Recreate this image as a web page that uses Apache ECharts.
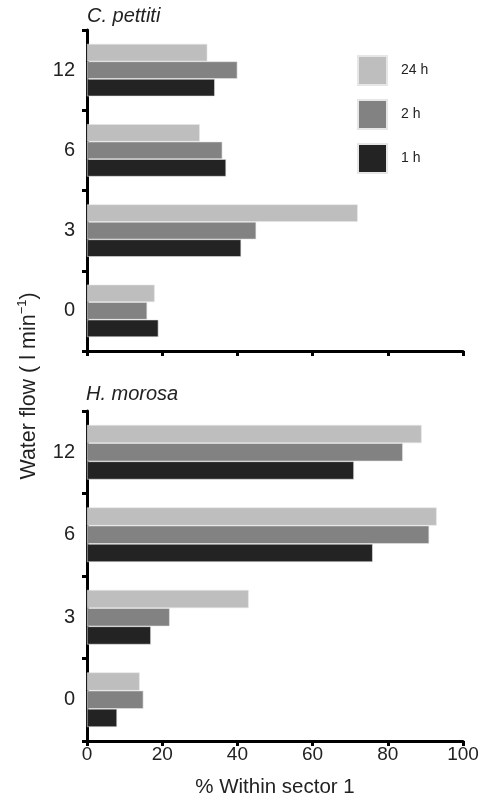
<!DOCTYPE html>
<html>
<head>
<meta charset="utf-8">
<script src="https://cdn.jsdelivr.net/npm/echarts@6/dist/echarts.min.js"></script>
<style>html,body{margin:0;padding:0;background:#fff}#c{width:484px;height:800px}</style>
</head>
<body>
<div id="c"></div>
<script>
const categories = ['0', '3', '6', '12'];
const seriesNames = ['24 h', '2 h', '1 h'];
const xTicks = [0, 20, 40, 60, 80, 100];
// C. pettiti
const pettiti24h = [18, 72, 30, 32];
const pettiti2h = [16, 45, 36, 40];
const pettiti1h = [19, 41, 37, 34];
// H. morosa
const morosa24h = [14, 43, 93, 89];
const morosa2h = [15, 22, 91, 84];
const morosa1h = [8, 17, 76, 71];

const colors = ['#bebebe', '#828282', '#232323'];
const FONT = '"Liberation Sans", Arial, sans-serif';

const chart = echarts.init(document.getElementById('c'), null, {renderer: 'canvas'});

function xAx(gridIndex, showLabels) {
  return {
    type: 'value', gridIndex, min: xTicks[0], max: xTicks[xTicks.length - 1], interval: 20,
    axisLine: {show: true, onZero: false, lineStyle: {color: '#000', width: 3}},
    axisTick: {show: true, length: 5, lineStyle: {color: '#000', width: 3}},
    axisLabel: {show: showLabels, color: '#222', fontSize: 19, fontFamily: FONT, margin: 4},
    splitLine: {show: false},
    name: showLabels ? '% Within sector 1' : '',
    nameLocation: 'middle', nameGap: 36,
    nameTextStyle: {color: '#222', fontSize: 20.5, fontFamily: FONT}
  };
}
function yAx(gridIndex) {
  return {
    type: 'category', gridIndex, data: categories,
    axisLine: {show: true, lineStyle: {color: '#000', width: 3}},
    axisTick: {show: true, length: 5, lineStyle: {color: '#000', width: 3}},
    axisLabel: {color: '#222', fontSize: 20, fontFamily: FONT, margin: 12}
  };
}
function bar(name, data, idx, gridIndex, w) {
  return {
    name, type: 'bar', xAxisIndex: gridIndex, yAxisIndex: gridIndex, data,
    barWidth: w, barGap: '0%',
    itemStyle: {color: colors[idx], borderColor: '#e6e6e6', borderWidth: 0.6},
    silent: true
  };
}

chart.setOption({
  animation: false,
  backgroundColor: '#fff',
  title: [
    {text: 'C. pettiti', left: 87, top: 6, padding: 0, textStyle: {fontStyle: 'italic', fontWeight: 'normal', fontSize: 20, color: '#222', fontFamily: FONT}},
    {text: 'H. morosa', left: 86, top: 384, padding: 0, textStyle: {fontStyle: 'italic', fontWeight: 'normal', fontSize: 20, color: '#222', fontFamily: FONT}}
  ],
  legend: {
    data: ['24 h', '2 h', '1 h'],
    orient: 'vertical', left: 357, top: 55, padding: 0,
    itemWidth: 29, itemHeight: 29, itemGap: 13,
    icon: 'rect',
    textStyle: {color: '#222', fontSize: 14, fontFamily: FONT, padding: [0, 0, 0, 9]},
    selectedMode: false
  },
  grid: [
    {left: 87, right: 21, top: 30, height: 321},
    {left: 87, right: 21, top: 411, height: 330}
  ],
  xAxis: [xAx(0, false), xAx(1, true)],
  yAxis: [yAx(0), yAx(1)],
  series: [
    bar(seriesNames[0], pettiti24h, 0, 0, 17.5),
    bar(seriesNames[1], pettiti2h, 1, 0, 17.5),
    bar(seriesNames[2], pettiti1h, 2, 0, 17.5),
    bar(seriesNames[0], morosa24h, 0, 1, 18.2),
    bar(seriesNames[1], morosa2h, 1, 1, 18.2),
    bar(seriesNames[2], morosa1h, 2, 1, 18.2)
  ],
  graphic: [{
    type: 'text', x: 28, y: 386, rotation: Math.PI / 2,
    style: {
      text: '{a|Water flow ( l min}{s|−1}{a|)}',
      align: 'center', verticalAlign: 'middle',
      rich: {
        a: {fontSize: 21.5, fontFamily: FONT, fill: '#222', lineHeight: 24, verticalAlign: 'bottom'},
        s: {fontSize: 13, fontFamily: FONT, fill: '#222', lineHeight: 24, verticalAlign: 'top'}
      }
    }
  }]
});
</script>
</body>
</html>
